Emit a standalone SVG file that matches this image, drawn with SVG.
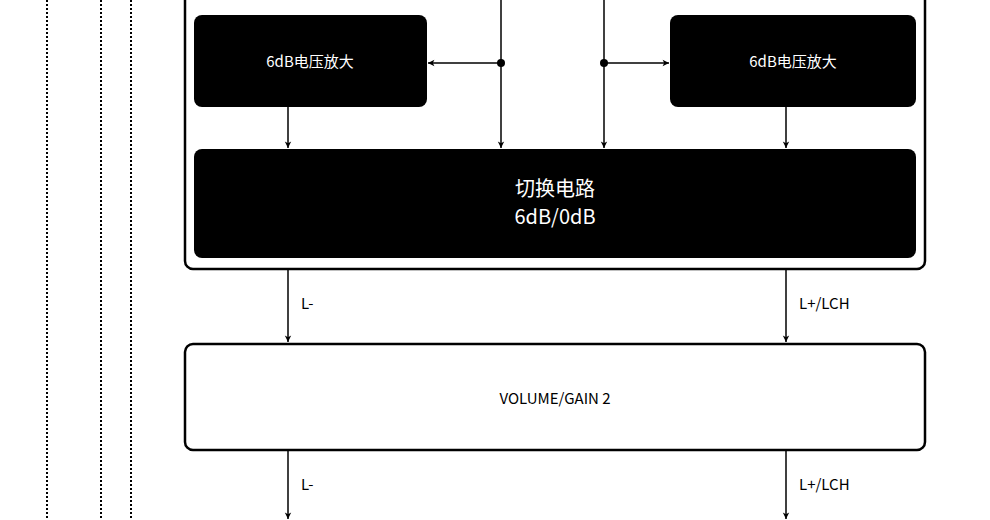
<svg xmlns="http://www.w3.org/2000/svg" width="990" height="520" viewBox="0 0 990 520">
<style>
.dot{stroke:#000;stroke-width:2;stroke-dasharray:2 2;fill:none}
.box{fill:#fff;stroke:#000;stroke-width:2.5}
.blk{fill:#000}
.ln{stroke:#000;stroke-width:1.5;fill:none}
.t{font-family:"Noto Sans CJK SC","Noto Sans",sans-serif;fill:#fff;text-anchor:middle}
.k{font-family:"Noto Sans CJK SC","Noto Sans",sans-serif;fill:#000;font-size:15px}
</style>
<defs>
<marker id="a" viewBox="0 0 10 10" refX="9" refY="5" markerWidth="8" markerHeight="8" orient="auto" markerUnits="userSpaceOnUse">
<path d="M1,1 L9,5 L1,9 L3,5 Z" fill="#000"/>
</marker>
</defs>
<g id="rails">
<line class="dot" x1="47" y1="0" x2="47" y2="520"/>
<line class="dot" x1="101" y1="0" x2="101" y2="520"/>
<line class="dot" x1="131" y1="0" x2="131" y2="520"/>
</g>
<g id="container"><rect class="box" x="185" y="-10" width="740" height="279" rx="8"/></g>
<g id="amp-left"><rect class="blk" x="194" y="15" width="233" height="92" rx="8"/><text class="t" x="310" y="67" font-size="15">6dB电压放大</text></g>
<g id="amp-right"><rect class="blk" x="670" y="15" width="246" height="92" rx="8"/><text class="t" x="793" y="67" font-size="15">6dB电压放大</text></g>
<g id="switch"><rect class="blk" x="194" y="149" width="722" height="109" rx="8"/>
<text class="t" x="555" y="196" font-size="20">切换电路</text><text class="t" x="555" y="224" font-size="20">6dB/0dB</text></g>
<g id="volume"><rect class="box" x="185" y="344" width="740" height="106" rx="8"/>
<text class="k" x="555" y="404" text-anchor="middle">VOLUME/GAIN 2</text></g>
<g id="connectors">
<line class="ln" x1="501" y1="0" x2="501" y2="148" marker-end="url(#a)"/>
<line class="ln" x1="604" y1="0" x2="604" y2="148" marker-end="url(#a)"/>
<line class="ln" x1="501" y1="63" x2="428" y2="63" marker-end="url(#a)"/>
<line class="ln" x1="604" y1="63" x2="669" y2="63" marker-end="url(#a)"/>
<circle cx="501" cy="63" r="4"/><circle cx="604" cy="63" r="4"/>
<line class="ln" x1="288" y1="107" x2="288" y2="148" marker-end="url(#a)"/>
<line class="ln" x1="786" y1="107" x2="786" y2="148" marker-end="url(#a)"/>
<line class="ln" x1="288" y1="270" x2="288" y2="342" marker-end="url(#a)"/>
<line class="ln" x1="786" y1="270" x2="786" y2="342" marker-end="url(#a)"/>
<line class="ln" x1="288" y1="451" x2="288" y2="519" marker-end="url(#a)"/>
<line class="ln" x1="786" y1="451" x2="786" y2="519" marker-end="url(#a)"/>
<text class="k" x="301" y="309">L-</text>
<text class="k" x="799" y="309">L+/LCH</text>
<text class="k" x="301" y="490">L-</text>
<text class="k" x="799" y="490">L+/LCH</text>
</g>
</svg>
